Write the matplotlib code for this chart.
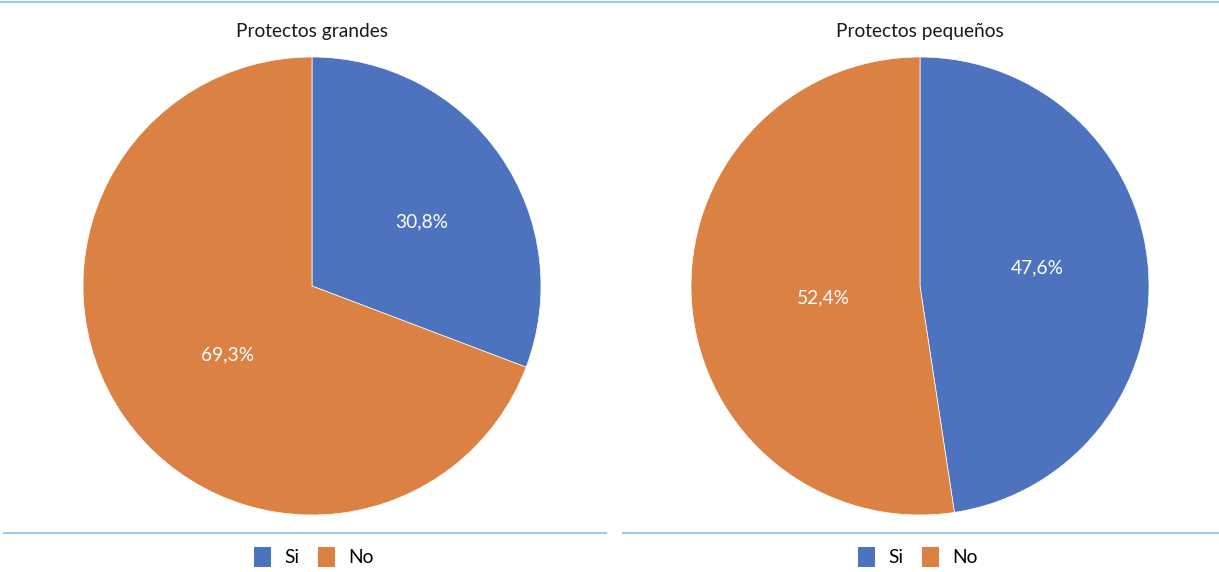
import numpy as np
import matplotlib.pyplot as plt
from matplotlib.patches import Patch
from matplotlib.lines import Line2D

plt.rcParams['font.family'] = ['Lato', 'DejaVu Sans']

# Data
titles = ['Protectos grandes', 'Protectos pequeños']
categories = ['Si', 'No']
grandes = [30.8, 69.3]
pequenos = [47.6, 52.4]
series = [grandes, pequenos]

colors = ['#4E73BE', '#DB8143']
line_color = '#9CCBEA'

fig = plt.figure(figsize=(12.19, 5.72), dpi=100)
W, H = 1219, 572

# pie centres and radius in pixels
centres = [(312, 286), (920, 286)]
radius = 229
label_pos = [[(0.48, 0.28), (-0.37, -0.30)], [(0.51, 0.08), (-0.42, -0.05)]]
legend_x = [314, 918]
fs = 13.8

for i, vals in enumerate(series):
    cx, cy = centres[i]
    ax = fig.add_axes([(cx - radius) / W, (H - cy - radius) / H,
                       2 * radius / W, 2 * radius / H])
    wedges, _ = ax.pie(vals, colors=colors, startangle=90, counterclock=False,
                       radius=1, wedgeprops=dict(edgecolor='white', linewidth=0.5))
    ax.set_xlim(-1, 1)
    ax.set_ylim(-1, 1)
    ax.set_aspect('equal')
    ax.axis('off')
    # value labels inside each slice
    for v, (x, y) in zip(vals, label_pos[i]):
        ax.text(x, y, f'{v:.1f}%'.replace('.', ','),
                ha='center', va='center', color='white', fontsize=fs)
    fig.text(cx / W, 1 - 31 / H, titles[i], ha='center', va='center',
             fontsize=fs, color='#1a1a1a')

    handles = [Patch(facecolor=c, edgecolor='none', label=l)
               for c, l in zip(colors, categories)]
    fig.legend(handles=handles, loc='center', ncol=2, frameon=False,
               bbox_to_anchor=(legend_x[i] / W, 1 - 557 / H),
               fontsize=fs, handlelength=0.85, handleheight=1.25,
               handletextpad=0.7, columnspacing=1.0)

# separator lines
fig.add_artist(Line2D([0, 1], [1 - 1.5 / H] * 2, color=line_color, lw=1.5))
fig.add_artist(Line2D([4 / W, 606 / W], [1 - 533 / H] * 2, color=line_color, lw=1.5))
fig.add_artist(Line2D([623 / W, 1], [1 - 533 / H] * 2, color=line_color, lw=1.5))

fig.savefig('out.png', dpi=100)
